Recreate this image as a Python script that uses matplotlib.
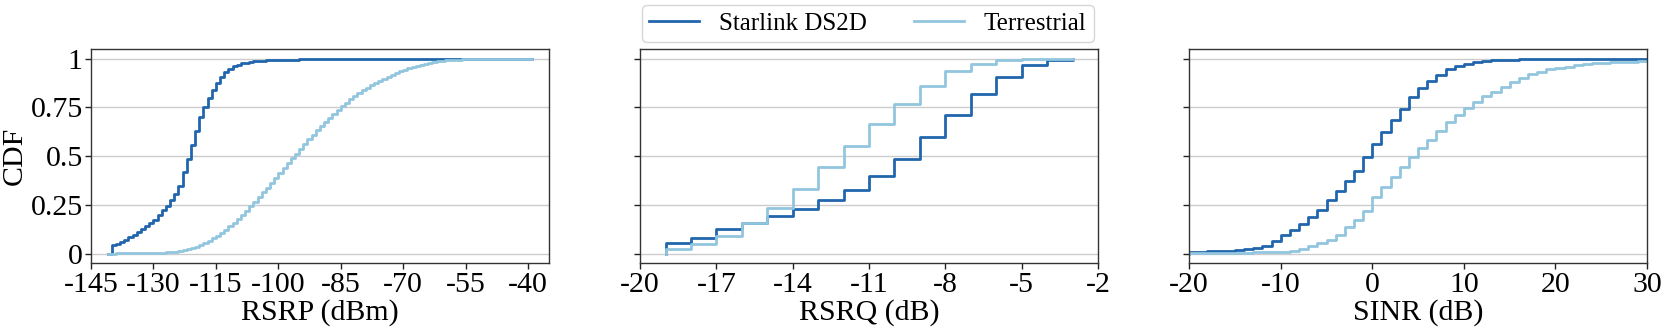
import numpy as np
import matplotlib as mpl
mpl.use("Agg")
import matplotlib.pyplot as plt

mpl.rcParams['font.family'] = ['Liberation Serif', 'DejaVu Serif']
mpl.rcParams['axes.unicode_minus'] = False
mpl.rcParams.update({'font.size': 21.5})

# ---- data (CDF value at each bin) ----
rsrp_x = np.arange(-141, -38)
rsrp_starlink = [
    0.000, 0.046, 0.051, 0.060, 0.072, 0.084, 0.097, 0.111, 0.126, 0.140,
    0.157, 0.174, 0.197, 0.222, 0.246, 0.277, 0.308, 0.345, 0.417, 0.487,
    0.559, 0.631, 0.699, 0.750, 0.798, 0.841, 0.875, 0.906, 0.930, 0.949,
    0.961, 0.969, 0.976, 0.980, 0.983, 0.986, 0.988, 0.990, 0.991, 0.992,
    0.993, 0.994, 0.995, 0.995, 0.996, 0.996, 0.997, 0.997, 0.998, 0.998,
    0.998, 0.999, 0.999, 0.999, 0.999, 0.999, 0.999, 0.999, 0.999, 0.999,
    0.999, 1.000, 1.000, 1.000, 1.000, 1.000, 1.000, 1.000, 1.000, 1.000,
    1.000, 1.000, 1.000, 1.000, 1.000, 1.000, 1.000, 1.000, 1.000, 1.000,
    1.000, 1.000, 1.000, 1.000, 1.000, 1.000, 1.000, 1.000, 1.000, 1.000,
    1.000, 1.000, 1.000, 1.000, 1.000, 1.000, 1.000, 1.000, 1.000, 1.000,
    1.000, 1.000, 1.000]
rsrp_terrestrial = [
    0.000, 0.000, 0.001, 0.001, 0.001, 0.001, 0.002, 0.002, 0.002, 0.003,
    0.003, 0.004, 0.004, 0.005, 0.006, 0.008, 0.009, 0.012, 0.016, 0.021,
    0.027, 0.034, 0.043, 0.053, 0.065, 0.078, 0.092, 0.107, 0.123, 0.140,
    0.157, 0.177, 0.198, 0.220, 0.243, 0.266, 0.290, 0.314, 0.338, 0.363,
    0.388, 0.413, 0.438, 0.463, 0.488, 0.513, 0.538, 0.562, 0.586, 0.609,
    0.632, 0.654, 0.676, 0.697, 0.718, 0.738, 0.757, 0.775, 0.792, 0.808,
    0.823, 0.837, 0.850, 0.863, 0.875, 0.886, 0.897, 0.907, 0.917, 0.926,
    0.935, 0.943, 0.951, 0.958, 0.964, 0.970, 0.975, 0.980, 0.984, 0.987,
    0.990, 0.992, 0.994, 0.995, 0.996, 0.997, 0.998, 0.998, 0.999, 0.999,
    0.999, 0.999, 1.000, 1.000, 1.000, 1.000, 1.000, 1.000, 1.000, 1.000,
    1.000, 1.000, 1.000]

rsrq_x = np.arange(-19, -2)
rsrq_starlink = [0.055, 0.082, 0.125, 0.159, 0.195, 0.231, 0.277, 0.325, 0.397,
                 0.484, 0.598, 0.711, 0.817, 0.904, 0.966, 0.995, 1.000]
rsrq_terrestrial = [0.024, 0.050, 0.092, 0.159, 0.236, 0.333, 0.443, 0.554, 0.663,
                    0.766, 0.860, 0.935, 0.974, 0.991, 0.997, 1.000, 1.000]

sinr_x = np.arange(-20, 31)
sinr_starlink = [
    0.009, 0.010, 0.012, 0.014, 0.015, 0.019, 0.022, 0.027, 0.039, 0.063,
    0.094, 0.121, 0.154, 0.186, 0.222, 0.277, 0.323, 0.374, 0.426, 0.496,
    0.562, 0.624, 0.685, 0.742, 0.803, 0.850, 0.884, 0.915, 0.945, 0.961,
    0.973, 0.983, 0.990, 0.993, 0.995, 0.996, 0.997, 0.998, 0.998, 0.999,
    0.999, 0.999, 0.999, 1.000, 1.000, 1.000, 1.000, 1.000, 1.000, 1.000,
    1.000]
sinr_terrestrial = [
    0.002, 0.002, 0.003, 0.003, 0.004, 0.004, 0.005, 0.006, 0.007, 0.008,
    0.010, 0.014, 0.022, 0.038, 0.055, 0.072, 0.094, 0.135, 0.174, 0.217,
    0.291, 0.342, 0.393, 0.444, 0.494, 0.542, 0.585, 0.631, 0.674, 0.713,
    0.747, 0.776, 0.807, 0.831, 0.857, 0.882, 0.903, 0.920, 0.933, 0.945,
    0.954, 0.960, 0.967, 0.973, 0.976, 0.980, 0.981, 0.983, 0.985, 0.986,
    0.988]

series_labels = ['Starlink DS2D', 'Terrestrial']
colors = ['#2166ac', '#92c5de']

panels = [
    ('RSRP (dBm)', rsrp_x, rsrp_starlink, rsrp_terrestrial, (-145, -35), [-145, -130, -115, -100, -85, -70, -55, -40]),
    ('RSRQ (dB)', rsrq_x, rsrq_starlink, rsrq_terrestrial, (-20, -2), [-20, -17, -14, -11, -8, -5, -2]),
    ('SINR (dB)', sinr_x, sinr_starlink, sinr_terrestrial, (-20, 30), [-20, -10, 0, 10, 20, 30]),
]

fig, axes = plt.subplots(1, 3, figsize=(16.61, 3.31), dpi=100, sharey=True)
fig.subplots_adjust(left=0.0548, right=0.9916, bottom=0.2045, top=0.852, wspace=0.199)

for ax, (xlabel, x, s1, s2, xlim, xt) in zip(axes, panels):
    for vals, c, lab in zip([s1, s2], colors, series_labels):
        ax.step(np.r_[x[0], x], np.r_[0.0, vals], where='post', color=c, lw=2.0, label=lab)
    ax.set_xlim(xlim)
    ax.set_ylim(-0.05, 1.05)
    ax.set_xticks(xt)
    ax.set_xticklabels([str(v) for v in xt])
    ax.set_xlabel(xlabel, labelpad=1)
    ax.grid(axis='y', color='#cccccc', lw=1.0)
    ax.tick_params(direction='out', length=4, width=1, color='#222222', pad=2)
    for sp in ax.spines.values():
        sp.set_color('#333333')
        sp.set_linewidth(1.0)

axes[0].set_yticks([0, 0.25, 0.5, 0.75, 1])
axes[0].set_yticklabels(['0', '0.25', '0.5', '0.75', '1'])
axes[0].set_ylabel('CDF', labelpad=2)

h, l = axes[0].get_legend_handles_labels()
fig.legend(h, l, ncol=2, mode='expand', loc='lower left', fontsize=18,
           bbox_to_anchor=(0.3865, 0.872, 0.2721, 0.1257), borderaxespad=0.0,
           borderpad=0.3, fancybox=True, edgecolor='#cccccc')

fig.savefig('out.png', dpi=100)
